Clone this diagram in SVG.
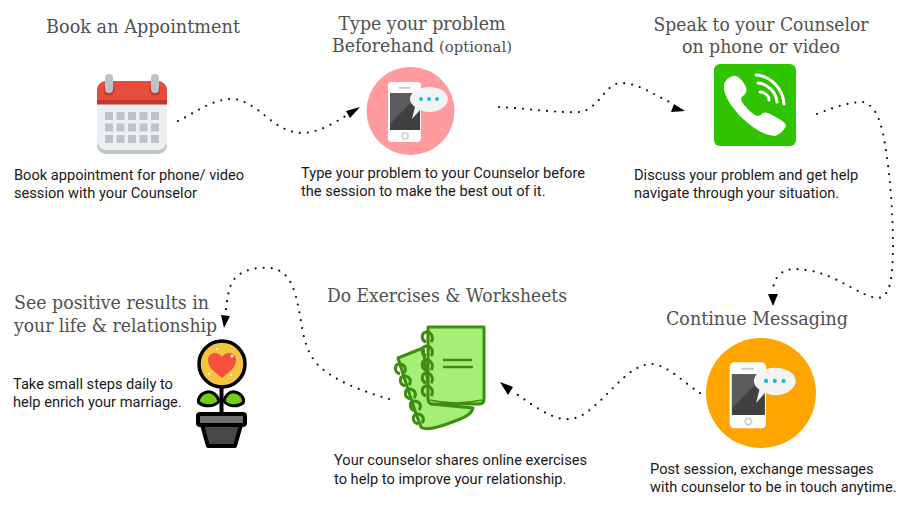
<svg xmlns="http://www.w3.org/2000/svg" width="905" height="514" viewBox="0 0 905 514">
<style>
.h{font-family:"DejaVu Serif","Liberation Serif",serif;font-size:18px;fill:#505050}
.b{font-family:Roboto,"Liberation Sans",sans-serif;font-size:14.63px;fill:#1a1a1a}
.c{fill:none;stroke:#111;stroke-width:2.2;stroke-linecap:round;stroke-dasharray:0 8}
.a{fill:#000}
.g{fill:none;stroke:#3d8e10;stroke-width:3}
</style>
<defs>
<g id="phone">
<rect x="-33" y="-28" width="33" height="60" rx="4" fill="#fff"/>
<rect x="-31" y="-17" width="30" height="37" fill="#404040"/>
<path d="M-31-17H-1L-31 14Z" fill="#5c5c5e"/>
<rect x="-22" y="-23" width="11" height="1.800" fill="#c9c9c9"/>
<circle cx="-16" cy="26" r="3" fill="none" stroke="#ccc" stroke-width="1.500"/>
<path d="M-11-11C-11-18-1-23 8-23C19-23 27-18 27-11C27-4 18 2 8 2C5 2 2 1-1 0L-9 9L-6-3C-9-5-11-8-11-11Z" fill="#f2f3f3"/>
<circle cx="0" cy="-11" r="1.900" fill="#15b7e6"/><circle cx="8" cy="-11" r="1.900" fill="#15b7e6"/><circle cx="16" cy="-11" r="1.900" fill="#15b7e6"/>
</g>
</defs>
<rect width="905" height="514" fill="#fff"/>

<g id="connectors">
<path class="c" d="M178 121C195 113 212 99 232 99C258 100 272 132 301 133C320 133 335 122 349 114"/>
<path class="a" d="M360 107L346 111L350 118Z"/>
<path class="c" d="M499 107C530 109 560 113 580 112C598 110 605 84 620 83C640 83 655 96 672 103"/>
<path class="a" d="M685 111L674 104L671 112Z"/>
<path class="c" d="M817 114C835 107 850 102 863 102C880 106 884 135 888 165C893 205 894 250 892 272C890 288 887 298 877 298C860 296 840 277 812 271C795 268 785 268 778 276C775 280 774 284 773 288"/>
<path class="a" d="M773 306L768 294L778 294Z"/>
<path class="c" d="M700 393C685 384 668 365 652 364C630 364 612 392 592 408C582 417 573 420 563 419C548 417 530 403 515 393"/>
<path class="a" d="M500 382L513 387L508 395Z"/>
<path class="c" d="M389 399C365 392 335 382 317 364C303 348 302 325 299 310C295 290 290 270 270 268C255 267 240 270 232 282C228 292 227 300 226 310"/>
<path class="a" d="M224 328L221 315L230 316Z"/>
</g>

<g id="n1">
<text class="h" x="143" y="33" text-anchor="middle" textLength="194" lengthAdjust="spacingAndGlyphs">Book an Appointment</text>
<rect x="97" y="81" width="70" height="73" rx="9" fill="#c0c5c8"/>
<rect x="97" y="81" width="70" height="69" rx="9" fill="#ecf0f1"/>
<path d="M97 104V90a9 9 0 0 1 9-9H158a9 9 0 0 1 9 9V104Z" fill="#e74c3c"/>
<rect x="97" y="100" width="70" height="4.500" fill="#c0392b"/>
<circle cx="109" cy="90" r="5.500" fill="#c0392b"/><circle cx="155" cy="90" r="5.500" fill="#c0392b"/>
<rect x="105" y="74" width="8" height="19" rx="4" fill="#bdc3c7"/><rect x="151" y="74" width="8" height="19" rx="4" fill="#bdc3c7"/>
<g fill="#bdc3c7">
<rect x="105" y="112" width="8" height="8"/><rect x="116.500" y="112" width="8" height="8"/><rect x="128" y="112" width="8" height="8"/><rect x="139.500" y="112" width="8" height="8"/><rect x="151" y="112" width="8" height="8"/>
<rect x="105" y="123.500" width="8" height="8"/><rect x="116.500" y="123.500" width="8" height="8"/><rect x="128" y="123.500" width="8" height="8"/><rect x="139.500" y="123.500" width="8" height="8"/><rect x="151" y="123.500" width="8" height="8"/>
<rect x="105" y="135" width="8" height="8"/><rect x="116.500" y="135" width="8" height="8"/><rect x="128" y="135" width="8" height="8"/><rect x="139.500" y="135" width="8" height="8"/><rect x="151" y="135" width="8" height="8"/>
</g>
<text class="b" x="14" y="180">Book appointment for phone/ video</text>
<text class="b" x="14" y="198">session with your Counselor</text>
</g>

<g id="n2">
<text class="h" x="422" y="30" text-anchor="middle" textLength="167" lengthAdjust="spacingAndGlyphs">Type your problem</text>
<text class="h" x="332" y="52" textLength="102" lengthAdjust="spacingAndGlyphs">Beforehand</text>
<text class="h" x="439" y="52" style="font-size:14px" textLength="73" lengthAdjust="spacingAndGlyphs">(optional)</text>
<circle cx="410.500" cy="111" r="44" fill="#ff9a9e"/>
<use href="#phone" x="421" y="110"/>
<text class="b" x="301" y="178">Type your problem to your Counselor before</text>
<text class="b" x="301" y="196">the session to make the best out of it.</text>
</g>

<g id="n3">
<text class="h" x="761" y="31" text-anchor="middle" textLength="215" lengthAdjust="spacingAndGlyphs">Speak to your Counselor</text>
<text class="h" x="761" y="53" text-anchor="middle" textLength="158" lengthAdjust="spacingAndGlyphs">on phone or video</text>
<rect x="714" y="64" width="82" height="82" rx="6" fill="#2fc300"/>
<path d="M724 85C725 79 732 75 736 76C739 77 742 80 745 85C747 89 747 92 745 94L741 98C741 101 743 104 746 107C749 111 753 114 757 116C759 116 761 115 763 113C765 112 767 112 772 115C778 118 785 122 786 125C786 128 781 134 775 136C762 135 749 125 740 116C732 107 723 96 724 85Z" fill="#fff"/>
<g fill="none" stroke="#fff" stroke-width="3" stroke-linecap="round">
<path d="M756 75C770 76 783 88 784 104"/>
<path d="M758 83C768 84 776 92 777 102"/>
<path d="M760 92C765 92 769 96 769 100"/>
</g>
<text class="b" x="634" y="180">Discuss your problem and get help</text>
<text class="b" x="634" y="198">navigate through your situation.</text>
</g>

<g id="n4">
<text class="h" x="757" y="325" text-anchor="middle" textLength="182" lengthAdjust="spacingAndGlyphs">Continue Messaging</text>
<circle cx="761" cy="393" r="55" fill="#ffa500"/>
<use href="#phone" transform="translate(766 393) scale(1.100)"/>
<text class="b" x="650" y="474">Post session, exchange messages</text>
<text class="b" x="650" y="492">with counselor to be in touch anytime.</text>
</g>

<g id="n5">
<text class="h" x="447" y="302" text-anchor="middle" textLength="240" lengthAdjust="spacingAndGlyphs">Do Exercises &amp; Worksheets</text>
<path d="M398 358L423 348L431 404L473 408C472 414 464 418 455 421C440 427 425 431 421 427C414 410 405 380 398 358Z" fill="#a5ef77" stroke="#3d8e10" stroke-width="3" stroke-linejoin="round"/>
<path d="M428 327H484V399C484 403 482 404 479 404H434C430 404 428 403 428 399Z" fill="#a5ef77" stroke="#3d8e10" stroke-width="3" stroke-linejoin="round"/>
<path d="M430 400Q456 406 482 400" fill="none" stroke="#3d8e10" stroke-width="1.500"/>
<path d="M443 360H472M443 367H473" stroke="#3d8e10" stroke-width="2.400" fill="none"/>
<g class="g">
<path d="M426 342C421 340 421 333 426 332C432 332 434 338 431 342"/>
<path d="M426 356C421 354 421 347 426 346C432 346 434 352 431 356"/>
<path d="M426 370C421 368 421 361 426 360C432 360 434 366 431 370"/>
<path d="M426 383C421 381 421 374 426 373C432 373 434 379 431 383"/>
<path d="M426 396C421 394 421 387 426 386C432 386 434 392 431 396"/>
<path d="M400 374C394 372 394 365 399 364C405 364 407 369 404 373"/>
<path d="M405 386C399 384 399 377 404 376C410 376 412 381 409 385"/>
<path d="M410 399C404 397 404 390 409 389C415 389 417 394 414 398"/>
<path d="M415 411C409 409 409 402 414 401C420 401 422 406 419 410"/>
<path d="M418 424C412 422 412 415 417 414C423 414 425 419 422 423"/>
</g>
<text class="b" x="334" y="465">Your counselor shares online exercises</text>
<text class="b" x="334" y="484">to help to improve your relationship.</text>
</g>

<g id="n6">
<text class="h" x="14" y="309" textLength="195" lengthAdjust="spacingAndGlyphs">See positive results in</text>
<text class="h" x="14" y="332" textLength="203" lengthAdjust="spacingAndGlyphs">your life &amp; relationship</text>
<rect x="219.500" y="385" width="4" height="30" fill="#000"/>
<circle cx="222" cy="364" r="23" fill="#f5c542" stroke="#000" stroke-width="3.500"/>
<path d="M222 378C215 372 208 368 208 360C208 355 212 353 215 353C218 353 221 355 222 357C223 355 226 353 229 353C233 353 236 356 236 360C236 368 229 372 222 378Z" fill="#f84f3e"/>
<path d="M219 401C215 407 204 407 199 403C197 399 201 393 207 392C213 391 218 396 219 401Z" fill="#6fcf10" stroke="#000" stroke-width="3"/>
<path d="M224 401C228 407 238 407 243 403C245 399 241 393 235 392C229 391 225 396 224 401Z" fill="#6fcf10" stroke="#000" stroke-width="3"/>
<path d="M202 425H241L235 446H208Z" fill="#474747" stroke="#000" stroke-width="4" stroke-linejoin="round"/>
<rect x="198" y="414" width="47" height="11" rx="2" fill="#6e6e6e" stroke="#000" stroke-width="4"/>
<circle cx="232" cy="356" r="1.500" fill="#fff"/><circle cx="217" cy="349" r="1" fill="#fff"/><circle cx="209" cy="374" r="1" fill="#fff"/><circle cx="231" cy="375" r="1" fill="#fff"/>
<text class="b" x="13" y="389">Take small steps daily to</text>
<text class="b" x="13" y="407">help enrich your marriage.</text>
</g>
</svg>
